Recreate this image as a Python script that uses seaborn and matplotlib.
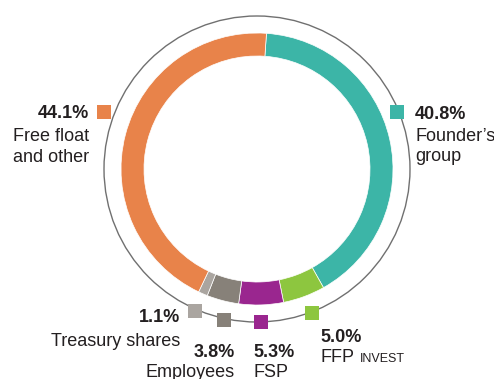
import matplotlib
matplotlib.use('Agg')
import matplotlib.pyplot as plt
import seaborn as sns
from matplotlib import font_manager
from matplotlib.patches import Circle, Rectangle

# ---- data ----
categories = ['Founder’s group', 'FFP INVEST', 'FSP', 'Employees', 'Treasury shares', 'Free float and other']
shares = [40.8, 5.0, 5.3, 3.8, 1.1, 44.1]
pct_labels = ['40.8%', '5.0%', '5.3%', '3.8%', '1.1%', '44.1%']
name_lines = [['Founder’s', 'group'], ['FFP'], ['FSP'], ['Employees'], ['Treasury shares'], ['Free float', 'and other']]
colors = ['#3cb5a7', '#8dc63f', '#9a268f', '#878179', '#aaa5a0', '#e8834a']

sns.set_theme(style='white')
names = {f.name for f in font_manager.fontManager.ttflist}
if 'Liberation Sans Narrow' in names:
    plt.rcParams['font.family'] = ['Liberation Sans Narrow', 'DejaVu Sans']
    FS, FS_SMALL = 14.5, 10
else:
    plt.rcParams['font.family'] = ['Liberation Sans', 'DejaVu Sans']
    FS, FS_SMALL = 13, 9

W, H = 494, 379
fig = plt.figure(figsize=(W / 100, H / 100), dpi=100)
ax = fig.add_axes([0, 0, 1, 1])

def Y(y):
    return H - y

cx, cy = 257, Y(169)
R, ring = 136, 23
ax.pie(shares, colors=colors, startangle=86, counterclock=False, radius=R,
       center=(cx, cy), frame=True,
       wedgeprops=dict(width=ring, edgecolor='white', linewidth=0.5))
ax.add_patch(Circle((cx, cy), 153, fill=False, edgecolor='#707070', lw=1.0))

ax.set_xlim(0, W)
ax.set_ylim(0, H)
ax.set_aspect('equal')
ax.axis('off')

# ---- label layout (pixel positions) ----
layout = [
    dict(sq=(397, 112), x=415, ha='left', pct_y=119, line_y=[141, 161]),
    dict(sq=(312, 313), x=320, ha='left', pct_y=342, line_y=[362]),
    dict(sq=(261, 322), x=253, ha='left', pct_y=357, line_y=[377]),
    dict(sq=(224, 320), x=235, ha='right', pct_y=357, line_y=[377]),
    dict(sq=(195, 311), x=180, ha='right', pct_y=322, line_y=[346]),
    dict(sq=(104, 112), x=89, ha='right', pct_y=118, line_y=[141, 162]),
]
txt = '#231f20'
S = 14
ffp_text = None
for i, lay in enumerate(layout):
    sx, sy = lay['sq']
    ax.add_patch(Rectangle((sx - S / 2, Y(sy) - S / 2), S, S, facecolor=colors[i], edgecolor='none', zorder=3))
    ax.text(lay['x'], Y(lay['pct_y']), pct_labels[i], ha=lay['ha'], va='baseline',
            fontsize=FS, fontweight='bold', color=txt)
    for line, ly in zip(name_lines[i], lay['line_y']):
        t = ax.text(lay['x'], Y(ly), line, ha=lay['ha'], va='baseline', fontsize=FS, color=txt)
        if i == 1:
            ffp_text = t

fig.canvas.draw()
bb = ffp_text.get_window_extent()
x_end = ax.transData.inverted().transform((bb.x1, bb.y0))[0]
ax.text(x_end + 6, Y(362), 'INVEST', ha='left', va='baseline', fontsize=FS_SMALL, color=txt)

fig.savefig('out.png', dpi=100, facecolor='white')
